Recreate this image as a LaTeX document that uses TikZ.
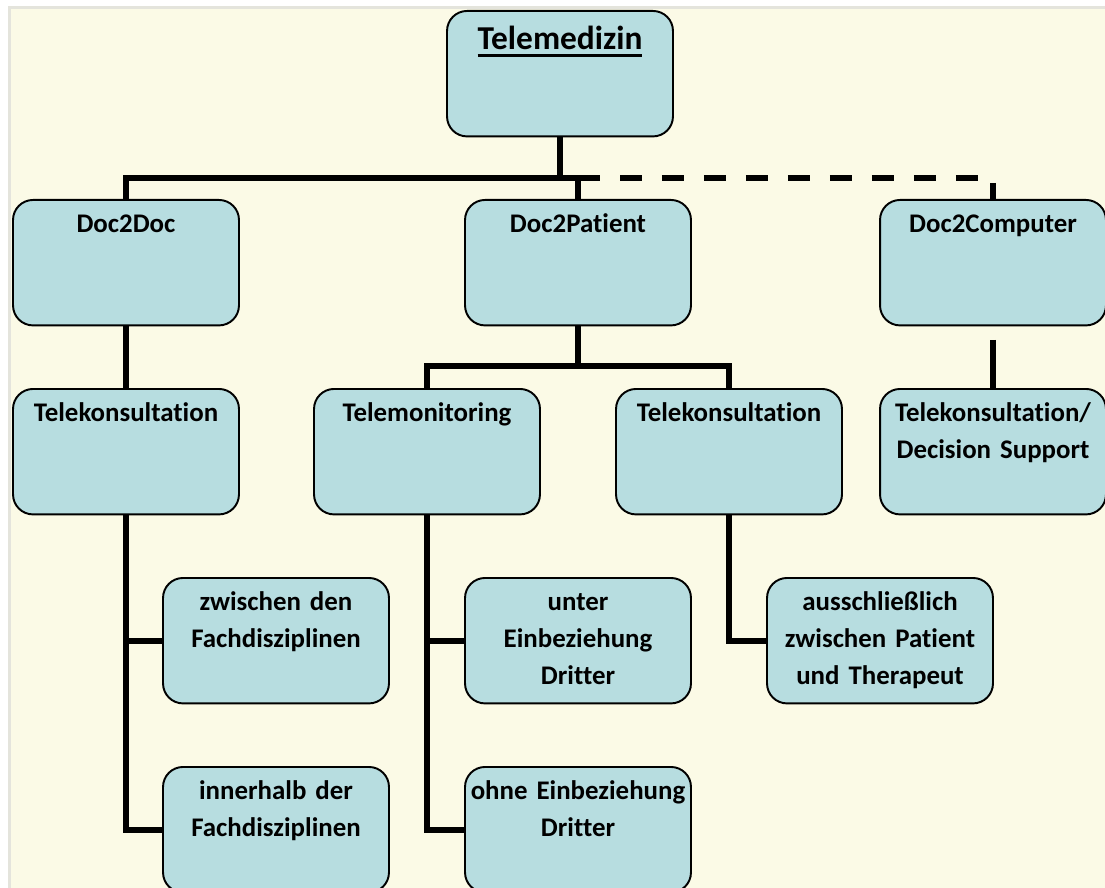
\documentclass[tikz,border=0pt]{standalone}
\usepackage{fontspec}
\setmainfont{Carlito}[Ligatures=NoCommon]
\newcommand{\titleul}[1]{\leavevmode\setbox0=\hbox{#1}\rlap{\vrule width\wd0 height -2.6pt depth 4.3pt}\box0}
\definecolor{boxblue}{RGB}{183,221,224}
\definecolor{cream}{RGB}{251,250,230}
\definecolor{framegray}{RGB}{228,228,220}
\begin{document}
\begin{tikzpicture}
                [x=0.02cm, y=-0.02cm,
                 box/.style={draw, fill=boxblue, rounded corners=0.4cm, line width=1.1pt, anchor=north, text width=4.52cm, inner xsep=0pt, inner ysep=0pt, align=center, font=\fontsize{15.3}{21}\selectfont\bfseries, text height=18.7pt, text depth=52.7pt},
                 link/.style={draw, line width=3.3pt},
                 dashlink/.style={draw, line width=3.3pt, dash pattern=on 0.44cm off 0.4cm}]
                % Background
                \useasboundingbox (0,0) rectangle (1105,888);
                \fill[framegray] (8,6) rectangle (1105,888);
                \fill[cream] (11,9) rectangle (1105,888);
                % Define nodes
                \node[box, font=\fontsize{19}{23}\selectfont\bfseries, text height=22pt, text depth=49.4pt] (tele) at (560,10) {\titleul{Telemedizin}};
                \node[box] (d2d) at (126,199) {Doc2Doc};
                \node[box] (d2p) at (578,199) {Doc2Patient};
                \node[box] (d2c) at (993,199) {Doc2Computer};
                \node[box] (tk1) at (126,388) {Telekonsultation};
                \node[box] (tmon) at (427,388) {Telemonitoring};
                \node[box] (tk2) at (729,388) {Telekonsultation};
                \node[box] (tkds) at (993,388) {Telekonsultation/\\Decision Support};
                \node[box] (fzw) at (276,577) {zwischen den\\Fachdisziplinen};
                \node[box] (fin) at (276,766) {innerhalb der\\Fachdisziplinen};
                \node[box] (mit) at (578,577) {unter\\Einbeziehung\\Dritter};
                \node[box] (ohne) at (578,766) {ohne Einbeziehung\\Dritter};
                \node[box] (pt) at (880,577) {ausschließlich\\zwischen Patient\\und Therapeut};
                \coordinate (bus1) at (560,178);
                \coordinate (bus2) at (578,366);
                \coordinate (stub) at (993,340);
                % Define edges
                \draw[link] (tele.south) -- (bus1);
                \draw[link] (bus1) -| (d2d.north);
                \draw[link] (bus1) -| (d2p.north);
                \draw[dashlink] (d2p.north |- bus1) -| (d2c.north);
                \draw[link] (d2d) -- (tk1);
                \draw[link] (d2p.south) -- (bus2);
                \draw[link] (tmon.north) |- (bus2) -| (tk2.north);
                \draw[link] (stub) -- (tkds.north);
                \draw[link] (tk1.south) |- (fzw.west);
                \draw[link] (tk1.south) |- (fin.west);
                \draw[link] (tmon.south) |- (mit.west);
                \draw[link] (tmon.south) |- (ohne.west);
                \draw[link] (tk2.south) |- (pt.west);
            \end{tikzpicture}
\end{document}
